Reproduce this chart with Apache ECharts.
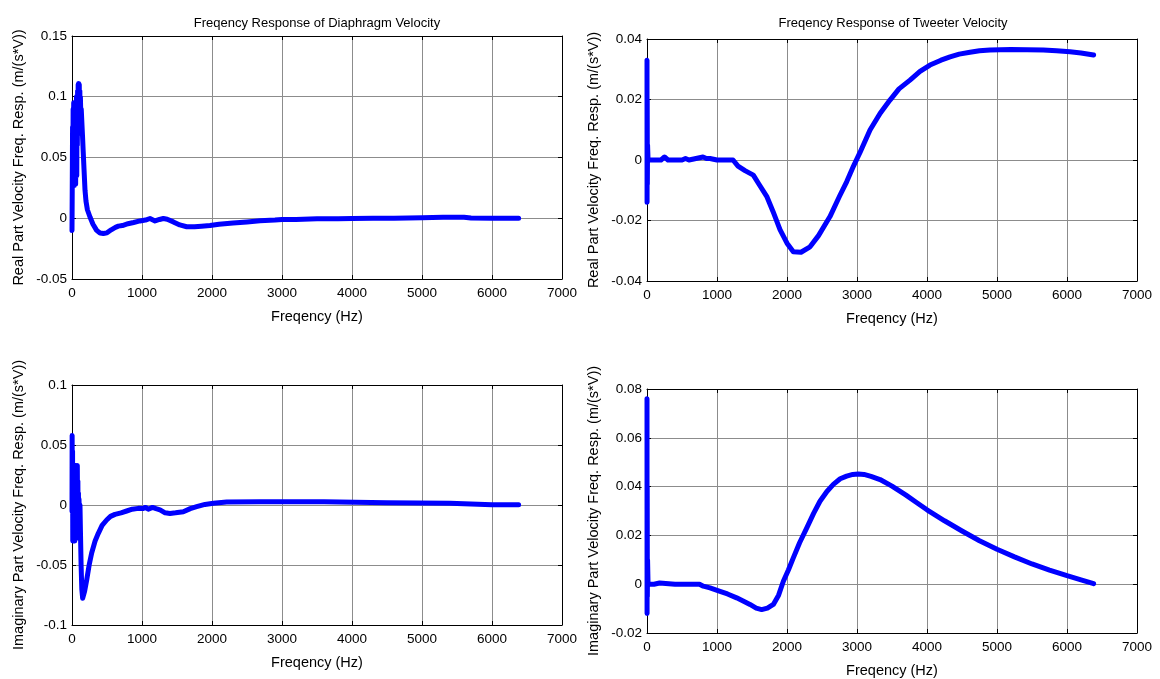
<!DOCTYPE html>
<html>
<head>
<meta charset="utf-8">
<script src="https://cdn.jsdelivr.net/npm/echarts@6/dist/echarts.min.js"></script>
<style>
html,body{margin:0;padding:0;background:#fff;}
#c{width:1160px;height:679px;}
</style>
</head>
<body>
<div id="c"></div>
<script>
// ---------- data ----------
const xTicks = [0, 1000, 2000, 3000, 4000, 5000, 6000, 7000];

const titles = ['Freqency Response of Diaphragm Velocity', 'Freqency Response of Tweeter Velocity'];
const xName = 'Freqency (Hz)';
const yNameReal = 'Real Part Velocity Freq. Resp. (m/(s*V))';
const yNameImag = 'Imaginary Part Velocity Freq. Resp. (m/(s*V))';

// Diaphragm, real part
const diaRealHz = [0,4,8,12,16,20,24,28,32,36,40,44,48,52,56,60,64,68,72,76,80,84,88,92,96,100,104,108,112,116,120,126,132,140,150,160,172,186,200,220,257,300,352,400,448,500,560,620,662,720,800,880,971,1050,1114,1186,1250,1305,1360,1448,1540,1638,1750,1850,1971,2100,2300,2500,2686,2900,3000,3200,3500,3800,4000,4300,4600,5000,5300,5600,5700,6000,6380];
const diaRealVal = [-0.01,0.03,0.075,0.035,0.09,0.03,0.095,0.04,0.085,0.027,0.095,0.045,0.09,0.028,0.092,0.05,0.1,0.035,0.098,0.06,0.105,0.07,0.11,0.075,0.111,0.085,0.11,0.07,0.105,0.08,0.1,0.085,0.09,0.08,0.068,0.055,0.04,0.023,0.014,0.007,0.001,-0.005,-0.01,-0.0122,-0.0126,-0.012,-0.0095,-0.0075,-0.0065,-0.006,-0.0045,-0.0035,-0.0022,-0.0015,-0.0002,-0.0022,-0.001,-0.0002,-0.0008,-0.003,-0.0055,-0.007,-0.007,-0.0065,-0.006,-0.005,-0.004,-0.003,-0.002,-0.0015,-0.001,-0.001,-0.0005,-0.0005,-0.0003,0,0,0.0005,0.0008,0.0008,0.0002,0,0];

// Tweeter, real part
const twRealHz = [0,1,3,5,8,15,100,200,250,300,500,550,600,800,850,900,1000,1229,1300,1400,1519,1600,1710,1800,1900,2000,2090,2200,2329,2450,2614,2750,2852,2950,3043,3186,3329,3471,3600,3757,3900,4043,4200,4329,4460,4614,4750,4900,5200,5662,5850,6043,6200,6380];
const twRealVal = [0.033,-0.014,0.02,-0.008,0.005,0,0,0,0.001,0,0,0.0005,0,0.001,0.0005,0.0005,0,0,-0.002,-0.0035,-0.005,-0.008,-0.012,-0.017,-0.023,-0.0275,-0.0303,-0.0305,-0.0287,-0.025,-0.0187,-0.012,-0.0072,-0.002,0.0025,0.0099,0.0154,0.0198,0.0235,0.0264,0.0293,0.0314,0.033,0.0341,0.035,0.0356,0.0361,0.0364,0.0365,0.0364,0.0361,0.0358,0.0354,0.0347];

// Diaphragm, imaginary part
const diaImagHz = [0,2,5,8,11,14,17,20,24,28,32,36,40,44,48,52,56,60,64,68,72,76,80,84,88,92,96,100,106,114,120,130,140,152,165,180,210,245,281,330,376,430,495,550,614,700,781,860,948,1010,1050,1090,1150,1200,1257,1330,1400,1480,1590,1690,1781,1900,2019,2210,2686,3000,3600,3620,4500,5400,5420,6000,6380];
const diaImagVal = [-0.005,0.058,0.01,0.045,-0.03,0.03,-0.025,0.02,-0.03,0.01,-0.02,0.02,-0.03,0.005,-0.025,0.033,-0.02,0.03,-0.028,0.025,-0.02,0.033,-0.01,0.02,-0.015,0.01,-0.02,0.005,-0.01,0,-0.02,-0.05,-0.07,-0.0777,-0.077,-0.072,-0.0625,-0.05,-0.04,-0.03,-0.0236,-0.017,-0.0125,-0.0095,-0.0078,-0.0065,-0.005,-0.0035,-0.0028,-0.003,-0.002,-0.0035,-0.002,-0.003,-0.004,-0.0065,-0.007,-0.0065,-0.0056,-0.003,-0.0014,0.0005,0.0014,0.0025,0.0028,0.0028,0.0028,0.0018,0.0018,0.0015,0.0003,0.0003,0.0003];

// Tweeter, imaginary part
const twImagHz = [0,1,3,5,8,15,100,180,200,400,600,750,805,900,1043,1150,1281,1380,1471,1560,1638,1720,1805,1880,1948,2020,2090,2180,2281,2380,2471,2570,2662,2760,2852,2940,3019,3100,3200,3329,3500,3700,3850,4000,4250,4500,4750,5000,5250,5500,5750,6000,6200,6380];
const twImagVal = [0.076,-0.012,0.04,-0.005,0.01,0,0,0.0005,0,0,0,0,-0.0008,-0.0015,-0.0029,-0.004,-0.0056,-0.007,-0.0083,-0.0098,-0.0104,-0.0098,-0.0083,-0.0045,0.0012,0.0058,0.0108,0.017,0.023,0.029,0.034,0.038,0.0409,0.0432,0.0443,0.045,0.0452,0.045,0.0442,0.0429,0.0402,0.0365,0.0335,0.0305,0.026,0.0218,0.0178,0.0143,0.0112,0.0083,0.0058,0.0035,0.0018,0.0002];

// y ranges [min, max, interval]
const yRanges = [[-0.05, 0.15, 0.05], [-0.04, 0.04, 0.02], [-0.1, 0.1, 0.05], [-0.02, 0.08, 0.02]];

// ---------- build ----------
const FONT = '"Liberation Sans", Arial, sans-serif';
const grids = [
  {left: 72, top: 36, width: 490, height: 243},
  {left: 647, top: 39, width: 490, height: 242},
  {left: 72, top: 385, width: 490, height: 240},
  {left: 647, top: 389, width: 490, height: 244}
];
const series = [[diaRealHz, diaRealVal], [twRealHz, twRealVal], [diaImagHz, diaImagVal], [twImagHz, twImagVal]];
const yNames = [yNameReal, yNameReal, yNameImag, yNameImag];

const xAxis = [], yAxis = [], ser = [];
grids.forEach((g, i) => {
  const xmin = xTicks[0], xmax = xTicks[xTicks.length - 1], xint = xTicks[1] - xTicks[0];
  const [ymin, ymax, yint] = yRanges[i];
  xAxis.push({
    type: 'value', gridIndex: i, min: xmin, max: xmax, interval: xint, position: 'bottom',
    name: xName, nameLocation: 'middle', nameGap: 30,
    nameTextStyle: {color: '#000', fontSize: 14.5, fontFamily: FONT},
    axisLine: {show: true, onZero: false, lineStyle: {color: '#000', width: 1}},
    axisTick: {show: true, inside: true, length: 4, lineStyle: {color: '#000'}},
    axisLabel: {color: '#000', fontSize: 13.5, fontFamily: FONT, margin: 7, formatter: v => String(v)},
    splitLine: {show: true, lineStyle: {color: '#8c8c8c', width: 1}}
  });
  xAxis.push({
    type: 'value', gridIndex: i, min: xmin, max: xmax, interval: xint, position: 'top',
    axisLine: {show: true, onZero: false, lineStyle: {color: '#000', width: 1}},
    axisTick: {show: true, inside: true, length: 4, lineStyle: {color: '#000'}},
    axisLabel: {show: false}, splitLine: {show: false}
  });
  yAxis.push({
    type: 'value', gridIndex: i, min: ymin, max: ymax, interval: yint, position: 'left',
    name: yNames[i], nameLocation: 'middle', nameGap: 46, nameRotate: 90,
    nameTextStyle: {color: '#000', fontSize: 14.5, fontFamily: FONT},
    axisLine: {show: true, onZero: false, lineStyle: {color: '#000', width: 1}},
    axisTick: {show: true, inside: true, length: 4, lineStyle: {color: '#000'}},
    axisLabel: {color: '#000', fontSize: 13.5, fontFamily: FONT, margin: 5,
      formatter: v => String(parseFloat(v.toFixed(4)))},
    splitLine: {show: true, lineStyle: {color: '#8c8c8c', width: 1}}
  });
  yAxis.push({
    type: 'value', gridIndex: i, min: ymin, max: ymax, interval: yint, position: 'right',
    axisLine: {show: true, onZero: false, lineStyle: {color: '#000', width: 1}},
    axisTick: {show: true, inside: true, length: 4, lineStyle: {color: '#000'}},
    axisLabel: {show: false}, splitLine: {show: false}
  });
  const [hz, val] = series[i];
  ser.push({
    type: 'line', xAxisIndex: 2 * i, yAxisIndex: 2 * i,
    data: hz.map((h, k) => [h, val[k]]),
    showSymbol: false, symbol: 'none',
    lineStyle: {color: '#0000ff', width: 5, join: 'round', cap: 'round'},
    itemStyle: {color: '#0000ff'},
    animation: false
  });
});

const chart = echarts.init(document.getElementById('c'), null, {renderer: 'canvas'});
chart.setOption({
  backgroundColor: '#fff',
  animation: false,
  title: [
    {text: titles[0], left: 312, top: 12, textAlign: 'center',
     textStyle: {color: '#000', fontSize: 13, fontWeight: 'normal', fontFamily: FONT}},
    {text: titles[1], left: 888, top: 12, textAlign: 'center',
     textStyle: {color: '#000', fontSize: 13, fontWeight: 'normal', fontFamily: FONT}}
  ],
  grid: grids,
  xAxis: xAxis,
  yAxis: yAxis,
  series: ser
});
</script>
</body>
</html>
